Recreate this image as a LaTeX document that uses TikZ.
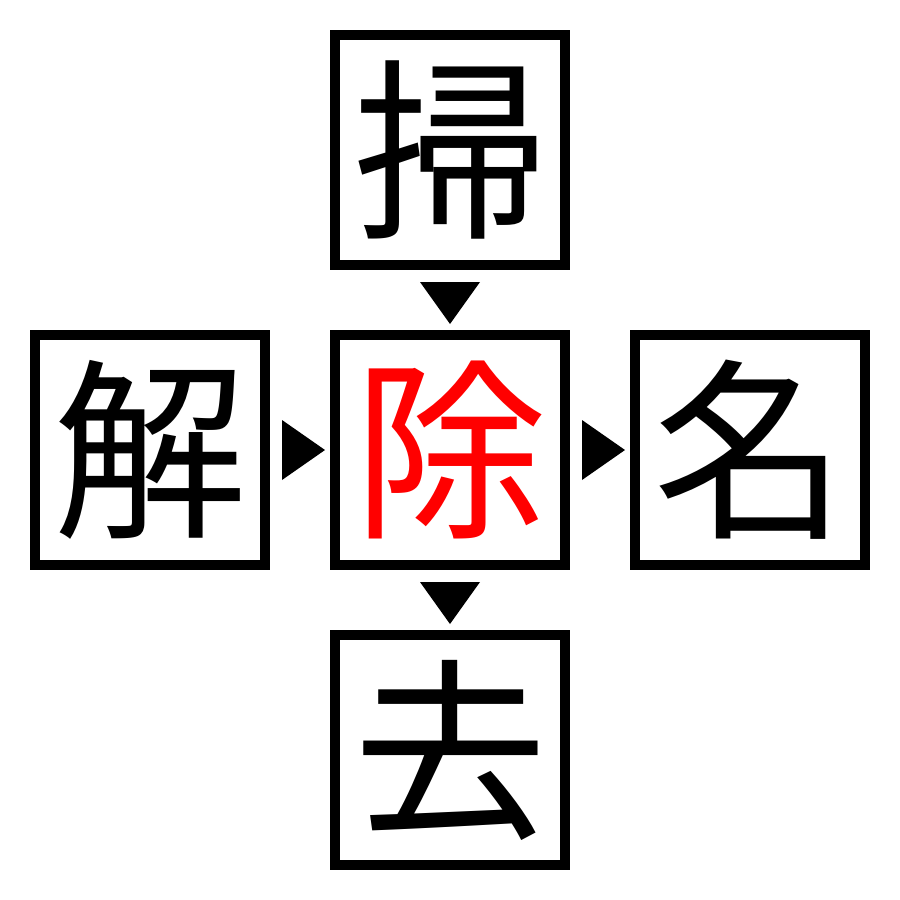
\documentclass[tikz,border=0pt]{standalone}
\usepackage{fontspec}
\newfontfamily\cjk{Noto Sans CJK JP}
\begin{document}
\begin{tikzpicture}[x=1pt,y=-1pt,
  kbox/.style={draw=black,line width=10pt,minimum size=230pt,inner sep=0pt,outer sep=5pt,
    font=\cjk\fontsize{194}{194}\selectfont},
  tri/.style={fill=black}]
\useasboundingbox (0,0) rectangle (900,900);
\node[kbox] (t) at (450,150) {掃};
\node[kbox] (l) at (150,450) {解};
\node[kbox,text=red] (c) at (450,450) {除};
\node[kbox] (r) at (750,450) {名};
\node[kbox] (b) at (450,750) {去};
% triangles
\fill[tri] ([xshift=-30pt,yshift=-12pt]t.south) -- ([xshift=30pt,yshift=-12pt]t.south) -- ([yshift=6pt]c.north) -- cycle;
\fill[tri] ([xshift=-30pt,yshift=-12pt]c.south) -- ([xshift=30pt,yshift=-12pt]c.south) -- ([yshift=6pt]b.north) -- cycle;
\fill[tri] ([xshift=12pt,yshift=30pt]l.east) -- ([xshift=12pt,yshift=-30pt]l.east) -- ([xshift=-5pt]c.west) -- cycle;
\fill[tri] ([xshift=12pt,yshift=30pt]c.east) -- ([xshift=12pt,yshift=-30pt]c.east) -- ([xshift=-5pt]r.west) -- cycle;
\end{tikzpicture}
\end{document}
